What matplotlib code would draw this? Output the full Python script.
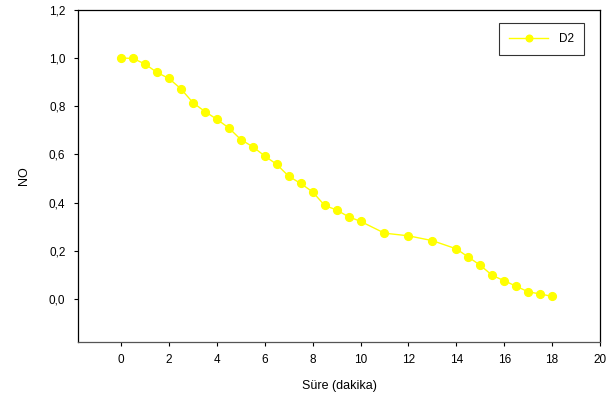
import numpy as np
import matplotlib
matplotlib.use("Agg")
import matplotlib.pyplot as plt
from matplotlib.ticker import FuncFormatter

# süre (dakika) ve NO değerleri
sure = [0, 0.5, 1, 1.5, 2, 2.5, 3, 3.5, 4, 4.5, 5, 5.5, 6, 6.5, 7, 7.5, 8,
        8.5, 9, 9.5, 10, 11, 12, 13, 14, 14.5, 15, 15.5, 16, 16.5, 17, 17.5, 18]
no_d2 = [1.0, 0.998, 0.975, 0.94, 0.915, 0.872, 0.815, 0.778, 0.746, 0.71,
         0.662, 0.632, 0.594, 0.559, 0.51, 0.48, 0.445, 0.389, 0.37, 0.342,
         0.323, 0.274, 0.263, 0.243, 0.209, 0.175, 0.141, 0.099, 0.077,
         0.054, 0.031, 0.022, 0.012]
x_ticks = list(range(0, 21, 2))
y_ticks = [0.0, 0.2, 0.4, 0.6, 0.8, 1.0, 1.2]

plt.rcParams['font.family'] = ['Liberation Sans', 'DejaVu Sans']

fig = plt.figure(figsize=(6.16, 4.05), dpi=100)
ax = fig.add_axes([0.1266, 0.1556, 0.8474, 0.8204])

ax.plot(sure, no_d2, color="#ffff00", marker="o", markersize=5.6,
        markeredgecolor="#ffff00", linewidth=1.0, label="D2")

ax.set_xlim(-1.8, 20)
ax.set_ylim(-0.177, 1.2)
ax.set_xticks(x_ticks)
ax.set_yticks(y_ticks)
ax.yaxis.set_major_formatter(FuncFormatter(lambda v, p: f"{v:.1f}".replace(".", ",")))
ax.tick_params(direction="out", length=3, width=0.8, labelsize=8.5, pad=6)

for s in ax.spines.values():
    s.set_linewidth(0.9)
ax.spines["bottom"].set_color("#555555")

ax.set_xlabel("Süre (dakika)", fontsize=9, labelpad=10)
ax.set_ylabel("NO", fontsize=9, labelpad=14)

leg = ax.legend(loc="upper right", bbox_to_anchor=(0.98, 0.978), fontsize=8.5,
                frameon=True, fancybox=False, edgecolor="black",
                handlelength=3.3, borderpad=0.85, handletextpad=0.9,
                markerscale=0.85)
leg.get_frame().set_linewidth(0.8)

fig.savefig("out.png", dpi=100)
